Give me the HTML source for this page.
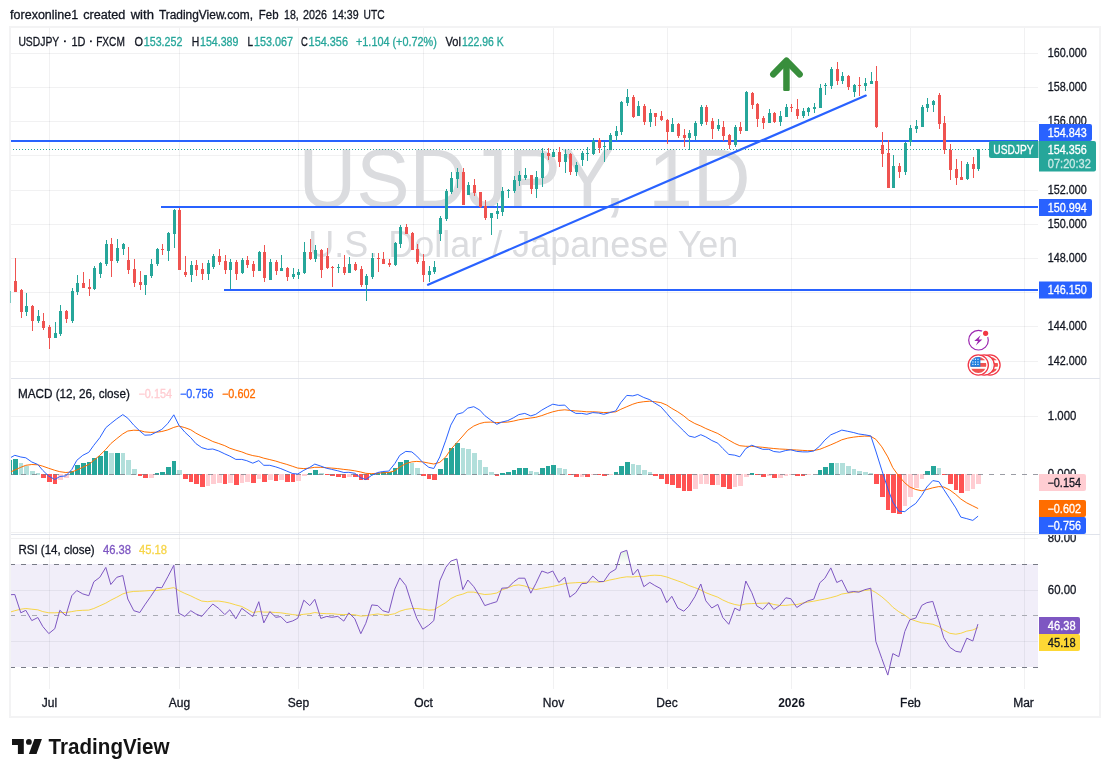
<!DOCTYPE html>
<html><head><meta charset="utf-8"><title>USDJPY chart</title>
<style>
html,body{margin:0;padding:0;background:#fff;}
body{width:1110px;height:777px;overflow:hidden;font-family:"Liberation Sans",sans-serif;}
svg{display:block;will-change:transform;}
text{font-family:"Liberation Sans",sans-serif;}
</style></head><body>
<svg width="1110" height="777" viewBox="0 0 1110 777">
<rect x="0" y="0" width="1110" height="777" fill="#ffffff"/>
<defs>
<clipPath id="plot"><rect x="11" y="28" width="1027" height="689"/></clipPath>
<clipPath id="rsiax"><rect x="1039" y="535" width="61" height="155"/></clipPath>
<clipPath id="cob"><rect x="11" y="535" width="1027" height="29.5"/></clipPath>
<clipPath id="cos"><rect x="11" y="667.5" width="1027" height="22"/></clipPath>
<linearGradient id="gob" gradientUnits="userSpaceOnUse" x1="0" y1="487" x2="0" y2="564.5"><stop offset="0" stop-color="#4caf50" stop-opacity="1"/><stop offset="1" stop-color="#4caf50" stop-opacity="0"/></linearGradient>
<linearGradient id="gos" gradientUnits="userSpaceOnUse" x1="0" y1="667.5" x2="0" y2="745"><stop offset="0" stop-color="#ff5252" stop-opacity="0"/><stop offset="1" stop-color="#ff5252" stop-opacity="1"/></linearGradient>
<clipPath id="main"><rect x="11" y="28" width="1027" height="350"/></clipPath>
</defs>

<text x="10.1" y="19.4" font-size="12" fill="#131722" stroke="#131722" stroke-width="0.3" textLength="68.1" lengthAdjust="spacingAndGlyphs">forexonline1</text>
<text x="83.2" y="19.4" font-size="12" fill="#131722" stroke="#131722" stroke-width="0.3" textLength="42.2" lengthAdjust="spacingAndGlyphs">created</text>
<text x="130.7" y="19.4" font-size="12" fill="#131722" stroke="#131722" stroke-width="0.3" textLength="23.2" lengthAdjust="spacingAndGlyphs">with</text>
<text x="158.9" y="19.4" font-size="12" fill="#131722" stroke="#131722" stroke-width="0.3" textLength="94.1" lengthAdjust="spacingAndGlyphs">TradingView.com,</text>
<text x="258.8" y="19.4" font-size="12" fill="#131722" stroke="#131722" stroke-width="0.3" textLength="19.7" lengthAdjust="spacingAndGlyphs">Feb</text>
<text x="284.1" y="19.4" font-size="12" fill="#131722" stroke="#131722" stroke-width="0.3" textLength="14.7" lengthAdjust="spacingAndGlyphs">18,</text>
<text x="303.1" y="19.4" font-size="12" fill="#131722" stroke="#131722" stroke-width="0.3" textLength="23.9" lengthAdjust="spacingAndGlyphs">2026</text>
<text x="332.1" y="19.4" font-size="12" fill="#131722" stroke="#131722" stroke-width="0.3" textLength="26.5" lengthAdjust="spacingAndGlyphs">14:39</text>
<text x="363.6" y="19.4" font-size="12" fill="#131722" stroke="#131722" stroke-width="0.3" textLength="21.0" lengthAdjust="spacingAndGlyphs">UTC</text>
<rect x="10" y="27" width="1090" height="690" fill="#fff" stroke="#f3f3f4" stroke-width="2"/>
<rect x="11" y="564" width="1027" height="103" fill="#f1eef9"/>
<g stroke="#2a2e39" stroke-opacity="0.065" stroke-width="1" shape-rendering="crispEdges">
<line x1="49.5" y1="28" x2="49.5" y2="689"/>
<line x1="179.5" y1="28" x2="179.5" y2="689"/>
<line x1="298.5" y1="28" x2="298.5" y2="689"/>
<line x1="423.5" y1="28" x2="423.5" y2="689"/>
<line x1="553.5" y1="28" x2="553.5" y2="689"/>
<line x1="667.5" y1="28" x2="667.5" y2="689"/>
<line x1="791.5" y1="28" x2="791.5" y2="689"/>
<line x1="910.5" y1="28" x2="910.5" y2="689"/>
<line x1="1024.5" y1="28" x2="1024.5" y2="689"/>
<line x1="11" y1="53.5" x2="1038" y2="53.5"/>
<line x1="11" y1="87.5" x2="1038" y2="87.5"/>
<line x1="11" y1="121.5" x2="1038" y2="121.5"/>
<line x1="11" y1="155.5" x2="1038" y2="155.5"/>
<line x1="11" y1="190.5" x2="1038" y2="190.5"/>
<line x1="11" y1="224.5" x2="1038" y2="224.5"/>
<line x1="11" y1="258.5" x2="1038" y2="258.5"/>
<line x1="11" y1="292.5" x2="1038" y2="292.5"/>
<line x1="11" y1="326.5" x2="1038" y2="326.5"/>
<line x1="11" y1="361.5" x2="1038" y2="361.5"/>
<line x1="11" y1="416.5" x2="1038" y2="416.5"/>
<line x1="11" y1="532.5" x2="1038" y2="532.5"/>
<line x1="11" y1="538.5" x2="1038" y2="538.5"/>
<line x1="11" y1="590.5" x2="1038" y2="590.5"/>
<line x1="11" y1="641.5" x2="1038" y2="641.5"/>
</g>
<g stroke="#e0e3eb" stroke-width="1" shape-rendering="crispEdges"><line x1="11" y1="378.5" x2="1100" y2="378.5"/><line x1="11" y1="534.5" x2="1100" y2="534.5"/></g>
<g fill="#dbdcdf" text-anchor="start">
<text x="298.5" y="0" font-size="80" transform="translate(0 206.8) scale(1 1.04)">USDJPY, 1D</text>
<text x="308.2" y="0" font-size="36" transform="translate(0 256.8) scale(1 1.04)">U.S. Dollar / Japanese Yen</text>
</g>
<g clip-path="url(#main)">
<g fill="#2962ff" shape-rendering="crispEdges">
<rect x="11" y="140" width="1027" height="2"/>
<rect x="161" y="206" width="877" height="2"/>
<rect x="224" y="289" width="814" height="2"/>
</g>
<line x1="428" y1="284.7" x2="865.8" y2="95.6" stroke="#2962ff" stroke-width="2.2" stroke-linecap="round"/>
<line x1="13" y1="149.5" x2="1038" y2="149.5" stroke="#26a69a" stroke-width="1" stroke-dasharray="1 2" shape-rendering="crispEdges"/>
<g shape-rendering="crispEdges">
<rect x="9" y="289" width="1" height="15" fill="#26a69a"/><rect x="8" y="291" width="3" height="12" fill="#26a69a"/>
<rect x="15" y="258" width="1" height="34" fill="#ef5350"/><rect x="14" y="281" width="3" height="11" fill="#ef5350"/>
<rect x="21" y="289" width="1" height="29" fill="#ef5350"/><rect x="20" y="290" width="3" height="22" fill="#ef5350"/>
<rect x="26" y="293" width="1" height="23" fill="#26a69a"/><rect x="25" y="306" width="3" height="6" fill="#26a69a"/>
<rect x="32" y="305" width="1" height="26" fill="#ef5350"/><rect x="31" y="306" width="3" height="15" fill="#ef5350"/>
<rect x="38" y="310" width="1" height="13" fill="#26a69a"/><rect x="37" y="316" width="3" height="5" fill="#26a69a"/>
<rect x="43" y="313" width="1" height="17" fill="#ef5350"/><rect x="42" y="321" width="3" height="7" fill="#ef5350"/>
<rect x="49" y="325" width="1" height="24" fill="#ef5350"/><rect x="48" y="327" width="3" height="11" fill="#ef5350"/>
<rect x="55" y="322" width="1" height="16" fill="#26a69a"/><rect x="54" y="333" width="3" height="5" fill="#26a69a"/>
<rect x="60" y="305" width="1" height="31" fill="#26a69a"/><rect x="59" y="311" width="3" height="23" fill="#26a69a"/>
<rect x="66" y="310" width="1" height="13" fill="#ef5350"/><rect x="65" y="311" width="3" height="8" fill="#ef5350"/>
<rect x="72" y="288" width="1" height="35" fill="#26a69a"/><rect x="71" y="291" width="3" height="30" fill="#26a69a"/>
<rect x="77" y="275" width="1" height="20" fill="#26a69a"/><rect x="76" y="283" width="3" height="9" fill="#26a69a"/>
<rect x="83" y="272" width="1" height="16" fill="#ef5350"/><rect x="82" y="283" width="3" height="5" fill="#ef5350"/>
<rect x="89" y="279" width="1" height="17" fill="#ef5350"/><rect x="88" y="287" width="3" height="2" fill="#ef5350"/>
<rect x="94" y="266" width="1" height="24" fill="#26a69a"/><rect x="93" y="268" width="3" height="21" fill="#26a69a"/>
<rect x="100" y="262" width="1" height="16" fill="#26a69a"/><rect x="99" y="263" width="3" height="11" fill="#26a69a"/>
<rect x="106" y="240" width="1" height="26" fill="#26a69a"/><rect x="105" y="244" width="3" height="20" fill="#26a69a"/>
<rect x="111" y="238" width="1" height="39" fill="#ef5350"/><rect x="110" y="244" width="3" height="17" fill="#ef5350"/>
<rect x="117" y="239" width="1" height="24" fill="#26a69a"/><rect x="116" y="248" width="3" height="13" fill="#26a69a"/>
<rect x="123" y="243" width="1" height="12" fill="#26a69a"/><rect x="122" y="244" width="3" height="5" fill="#26a69a"/>
<rect x="128" y="247" width="1" height="27" fill="#ef5350"/><rect x="127" y="260" width="3" height="10" fill="#ef5350"/>
<rect x="134" y="259" width="1" height="28" fill="#ef5350"/><rect x="133" y="269" width="3" height="14" fill="#ef5350"/>
<rect x="140" y="271" width="1" height="19" fill="#ef5350"/><rect x="139" y="282" width="3" height="3" fill="#ef5350"/>
<rect x="145" y="275" width="1" height="20" fill="#26a69a"/><rect x="144" y="275" width="3" height="10" fill="#26a69a"/>
<rect x="151" y="259" width="1" height="19" fill="#26a69a"/><rect x="150" y="264" width="3" height="12" fill="#26a69a"/>
<rect x="157" y="248" width="1" height="18" fill="#26a69a"/><rect x="156" y="249" width="3" height="15" fill="#26a69a"/>
<rect x="162" y="244" width="1" height="11" fill="#ef5350"/><rect x="161" y="249" width="3" height="1" fill="#ef5350"/>
<rect x="168" y="232" width="1" height="29" fill="#26a69a"/><rect x="167" y="233" width="3" height="18" fill="#26a69a"/>
<rect x="174" y="209" width="1" height="39" fill="#26a69a"/><rect x="173" y="210" width="3" height="24" fill="#26a69a"/>
<rect x="179" y="208" width="1" height="62" fill="#ef5350"/><rect x="178" y="210" width="3" height="60" fill="#ef5350"/>
<rect x="185" y="256" width="1" height="21" fill="#ef5350"/><rect x="184" y="272" width="3" height="3" fill="#ef5350"/>
<rect x="191" y="261" width="1" height="21" fill="#26a69a"/><rect x="190" y="265" width="3" height="10" fill="#26a69a"/>
<rect x="196" y="260" width="1" height="16" fill="#ef5350"/><rect x="195" y="265" width="3" height="5" fill="#ef5350"/>
<rect x="202" y="263" width="1" height="17" fill="#ef5350"/><rect x="201" y="269" width="3" height="5" fill="#ef5350"/>
<rect x="208" y="260" width="1" height="20" fill="#26a69a"/><rect x="207" y="263" width="3" height="11" fill="#26a69a"/>
<rect x="213" y="254" width="1" height="15" fill="#26a69a"/><rect x="212" y="256" width="3" height="11" fill="#26a69a"/>
<rect x="219" y="249" width="1" height="16" fill="#ef5350"/><rect x="218" y="256" width="3" height="6" fill="#ef5350"/>
<rect x="225" y="255" width="1" height="19" fill="#ef5350"/><rect x="224" y="261" width="3" height="9" fill="#ef5350"/>
<rect x="230" y="259" width="1" height="30" fill="#26a69a"/><rect x="229" y="262" width="3" height="8" fill="#26a69a"/>
<rect x="236" y="260" width="1" height="20" fill="#ef5350"/><rect x="235" y="262" width="3" height="12" fill="#ef5350"/>
<rect x="242" y="258" width="1" height="16" fill="#26a69a"/><rect x="241" y="260" width="3" height="13" fill="#26a69a"/>
<rect x="247" y="256" width="1" height="12" fill="#ef5350"/><rect x="246" y="260" width="3" height="5" fill="#ef5350"/>
<rect x="253" y="261" width="1" height="16" fill="#ef5350"/><rect x="252" y="264" width="3" height="7" fill="#ef5350"/>
<rect x="259" y="251" width="1" height="20" fill="#26a69a"/><rect x="258" y="252" width="3" height="19" fill="#26a69a"/>
<rect x="264" y="245" width="1" height="37" fill="#ef5350"/><rect x="263" y="252" width="3" height="26" fill="#ef5350"/>
<rect x="270" y="259" width="1" height="21" fill="#26a69a"/><rect x="269" y="262" width="3" height="18" fill="#26a69a"/>
<rect x="276" y="260" width="1" height="15" fill="#ef5350"/><rect x="275" y="262" width="3" height="9" fill="#ef5350"/>
<rect x="281" y="255" width="1" height="16" fill="#26a69a"/><rect x="280" y="268" width="3" height="3" fill="#26a69a"/>
<rect x="287" y="267" width="1" height="14" fill="#ef5350"/><rect x="286" y="268" width="3" height="9" fill="#ef5350"/>
<rect x="293" y="268" width="1" height="11" fill="#26a69a"/><rect x="292" y="274" width="3" height="3" fill="#26a69a"/>
<rect x="298" y="269" width="1" height="10" fill="#26a69a"/><rect x="297" y="272" width="3" height="3" fill="#26a69a"/>
<rect x="304" y="242" width="1" height="32" fill="#26a69a"/><rect x="303" y="252" width="3" height="21" fill="#26a69a"/>
<rect x="310" y="239" width="1" height="21" fill="#ef5350"/><rect x="309" y="252" width="3" height="7" fill="#ef5350"/>
<rect x="315" y="245" width="1" height="17" fill="#26a69a"/><rect x="314" y="250" width="3" height="9" fill="#26a69a"/>
<rect x="321" y="249" width="1" height="29" fill="#ef5350"/><rect x="320" y="250" width="3" height="20" fill="#ef5350"/>
<rect x="327" y="248" width="1" height="21" fill="#ef5350"/><rect x="326" y="256" width="3" height="12" fill="#ef5350"/>
<rect x="332" y="266" width="1" height="21" fill="#ef5350"/><rect x="331" y="267" width="3" height="1" fill="#ef5350"/>
<rect x="338" y="264" width="1" height="9" fill="#26a69a"/><rect x="337" y="267" width="3" height="1" fill="#26a69a"/>
<rect x="344" y="255" width="1" height="20" fill="#ef5350"/><rect x="343" y="267" width="3" height="6" fill="#ef5350"/>
<rect x="349" y="257" width="1" height="16" fill="#26a69a"/><rect x="348" y="264" width="3" height="9" fill="#26a69a"/>
<rect x="355" y="262" width="1" height="9" fill="#ef5350"/><rect x="354" y="264" width="3" height="6" fill="#ef5350"/>
<rect x="361" y="266" width="1" height="21" fill="#ef5350"/><rect x="360" y="269" width="3" height="16" fill="#ef5350"/>
<rect x="366" y="274" width="1" height="27" fill="#26a69a"/><rect x="365" y="276" width="3" height="9" fill="#26a69a"/>
<rect x="372" y="253" width="1" height="26" fill="#26a69a"/><rect x="371" y="258" width="3" height="19" fill="#26a69a"/>
<rect x="378" y="253" width="1" height="19" fill="#ef5350"/><rect x="377" y="258" width="3" height="1" fill="#ef5350"/>
<rect x="383" y="252" width="1" height="12" fill="#ef5350"/><rect x="382" y="259" width="3" height="5" fill="#ef5350"/>
<rect x="389" y="259" width="1" height="8" fill="#ef5350"/><rect x="388" y="263" width="3" height="2" fill="#ef5350"/>
<rect x="395" y="242" width="1" height="24" fill="#26a69a"/><rect x="394" y="243" width="3" height="22" fill="#26a69a"/>
<rect x="400" y="225" width="1" height="23" fill="#26a69a"/><rect x="399" y="227" width="3" height="17" fill="#26a69a"/>
<rect x="406" y="224" width="1" height="10" fill="#ef5350"/><rect x="405" y="227" width="3" height="7" fill="#ef5350"/>
<rect x="412" y="232" width="1" height="18" fill="#ef5350"/><rect x="411" y="233" width="3" height="17" fill="#ef5350"/>
<rect x="417" y="244" width="1" height="20" fill="#ef5350"/><rect x="416" y="249" width="3" height="13" fill="#ef5350"/>
<rect x="423" y="254" width="1" height="28" fill="#ef5350"/><rect x="422" y="261" width="3" height="14" fill="#ef5350"/>
<rect x="429" y="266" width="1" height="16" fill="#26a69a"/><rect x="428" y="271" width="3" height="4" fill="#26a69a"/>
<rect x="434" y="261" width="1" height="13" fill="#26a69a"/><rect x="433" y="267" width="3" height="5" fill="#26a69a"/>
<rect x="440" y="216" width="1" height="25" fill="#26a69a"/><rect x="439" y="218" width="3" height="16" fill="#26a69a"/>
<rect x="446" y="189" width="1" height="32" fill="#26a69a"/><rect x="445" y="191" width="3" height="28" fill="#26a69a"/>
<rect x="451" y="172" width="1" height="22" fill="#26a69a"/><rect x="450" y="178" width="3" height="14" fill="#26a69a"/>
<rect x="457" y="168" width="1" height="20" fill="#26a69a"/><rect x="456" y="172" width="3" height="7" fill="#26a69a"/>
<rect x="463" y="168" width="1" height="37" fill="#ef5350"/><rect x="462" y="172" width="3" height="33" fill="#ef5350"/>
<rect x="468" y="182" width="1" height="13" fill="#26a69a"/><rect x="467" y="185" width="3" height="10" fill="#26a69a"/>
<rect x="474" y="179" width="1" height="17" fill="#ef5350"/><rect x="473" y="185" width="3" height="8" fill="#ef5350"/>
<rect x="480" y="192" width="1" height="16" fill="#ef5350"/><rect x="479" y="192" width="3" height="15" fill="#ef5350"/>
<rect x="485" y="200" width="1" height="20" fill="#ef5350"/><rect x="484" y="206" width="3" height="12" fill="#ef5350"/>
<rect x="491" y="213" width="1" height="22" fill="#26a69a"/><rect x="490" y="213" width="3" height="5" fill="#26a69a"/>
<rect x="497" y="203" width="1" height="16" fill="#26a69a"/><rect x="496" y="211" width="3" height="3" fill="#26a69a"/>
<rect x="502" y="187" width="1" height="29" fill="#26a69a"/><rect x="501" y="191" width="3" height="21" fill="#26a69a"/>
<rect x="508" y="189" width="1" height="9" fill="#26a69a"/><rect x="507" y="190" width="3" height="1" fill="#26a69a"/>
<rect x="514" y="176" width="1" height="17" fill="#26a69a"/><rect x="513" y="180" width="3" height="11" fill="#26a69a"/>
<rect x="519" y="171" width="1" height="15" fill="#26a69a"/><rect x="518" y="175" width="3" height="6" fill="#26a69a"/>
<rect x="525" y="168" width="1" height="12" fill="#26a69a"/><rect x="524" y="175" width="3" height="3" fill="#26a69a"/>
<rect x="531" y="175" width="1" height="19" fill="#ef5350"/><rect x="530" y="175" width="3" height="14" fill="#ef5350"/>
<rect x="536" y="171" width="1" height="27" fill="#26a69a"/><rect x="535" y="177" width="3" height="12" fill="#26a69a"/>
<rect x="542" y="148" width="1" height="39" fill="#26a69a"/><rect x="541" y="153" width="3" height="25" fill="#26a69a"/>
<rect x="548" y="148" width="1" height="12" fill="#ef5350"/><rect x="547" y="153" width="3" height="3" fill="#ef5350"/>
<rect x="553" y="149" width="1" height="8" fill="#26a69a"/><rect x="552" y="152" width="3" height="5" fill="#26a69a"/>
<rect x="559" y="147" width="1" height="20" fill="#ef5350"/><rect x="558" y="152" width="3" height="10" fill="#ef5350"/>
<rect x="565" y="149" width="1" height="24" fill="#26a69a"/><rect x="564" y="154" width="3" height="8" fill="#26a69a"/>
<rect x="570" y="153" width="1" height="22" fill="#ef5350"/><rect x="569" y="154" width="3" height="18" fill="#ef5350"/>
<rect x="576" y="162" width="1" height="14" fill="#26a69a"/><rect x="575" y="165" width="3" height="7" fill="#26a69a"/>
<rect x="582" y="151" width="1" height="15" fill="#26a69a"/><rect x="581" y="153" width="3" height="7" fill="#26a69a"/>
<rect x="587" y="147" width="1" height="14" fill="#26a69a"/><rect x="586" y="153" width="3" height="1" fill="#26a69a"/>
<rect x="593" y="138" width="1" height="17" fill="#26a69a"/><rect x="592" y="141" width="3" height="13" fill="#26a69a"/>
<rect x="599" y="138" width="1" height="15" fill="#ef5350"/><rect x="598" y="140" width="3" height="8" fill="#ef5350"/>
<rect x="604" y="142" width="1" height="20" fill="#26a69a"/><rect x="603" y="146" width="3" height="1" fill="#26a69a"/>
<rect x="610" y="133" width="1" height="17" fill="#26a69a"/><rect x="609" y="135" width="3" height="15" fill="#26a69a"/>
<rect x="616" y="126" width="1" height="15" fill="#26a69a"/><rect x="615" y="131" width="3" height="5" fill="#26a69a"/>
<rect x="621" y="101" width="1" height="34" fill="#26a69a"/><rect x="620" y="102" width="3" height="30" fill="#26a69a"/>
<rect x="627" y="89" width="1" height="17" fill="#26a69a"/><rect x="626" y="97" width="3" height="6" fill="#26a69a"/>
<rect x="633" y="95" width="1" height="23" fill="#ef5350"/><rect x="632" y="97" width="3" height="20" fill="#ef5350"/>
<rect x="638" y="101" width="1" height="15" fill="#26a69a"/><rect x="637" y="106" width="3" height="10" fill="#26a69a"/>
<rect x="644" y="104" width="1" height="21" fill="#ef5350"/><rect x="643" y="106" width="3" height="16" fill="#ef5350"/>
<rect x="650" y="109" width="1" height="18" fill="#26a69a"/><rect x="649" y="113" width="3" height="9" fill="#26a69a"/>
<rect x="655" y="113" width="1" height="13" fill="#ef5350"/><rect x="654" y="113" width="3" height="4" fill="#ef5350"/>
<rect x="661" y="111" width="1" height="10" fill="#ef5350"/><rect x="660" y="116" width="3" height="4" fill="#ef5350"/>
<rect x="667" y="119" width="1" height="25" fill="#ef5350"/><rect x="666" y="120" width="3" height="12" fill="#ef5350"/>
<rect x="672" y="118" width="1" height="14" fill="#26a69a"/><rect x="671" y="124" width="3" height="8" fill="#26a69a"/>
<rect x="678" y="123" width="1" height="15" fill="#ef5350"/><rect x="677" y="124" width="3" height="12" fill="#ef5350"/>
<rect x="684" y="129" width="1" height="18" fill="#ef5350"/><rect x="683" y="135" width="3" height="3" fill="#ef5350"/>
<rect x="689" y="130" width="1" height="20" fill="#26a69a"/><rect x="688" y="133" width="3" height="5" fill="#26a69a"/>
<rect x="695" y="121" width="1" height="19" fill="#26a69a"/><rect x="694" y="123" width="3" height="13" fill="#26a69a"/>
<rect x="701" y="105" width="1" height="21" fill="#26a69a"/><rect x="700" y="107" width="3" height="17" fill="#26a69a"/>
<rect x="706" y="105" width="1" height="20" fill="#ef5350"/><rect x="705" y="107" width="3" height="15" fill="#ef5350"/>
<rect x="712" y="118" width="1" height="21" fill="#ef5350"/><rect x="711" y="121" width="3" height="8" fill="#ef5350"/>
<rect x="718" y="119" width="1" height="12" fill="#26a69a"/><rect x="717" y="125" width="3" height="4" fill="#26a69a"/>
<rect x="723" y="121" width="1" height="20" fill="#ef5350"/><rect x="722" y="127" width="3" height="9" fill="#ef5350"/>
<rect x="729" y="134" width="1" height="15" fill="#ef5350"/><rect x="728" y="135" width="3" height="10" fill="#ef5350"/>
<rect x="735" y="125" width="1" height="22" fill="#26a69a"/><rect x="734" y="127" width="3" height="18" fill="#26a69a"/>
<rect x="740" y="122" width="1" height="12" fill="#ef5350"/><rect x="739" y="127" width="3" height="4" fill="#ef5350"/>
<rect x="746" y="91" width="1" height="40" fill="#26a69a"/><rect x="745" y="92" width="3" height="39" fill="#26a69a"/>
<rect x="752" y="92" width="1" height="17" fill="#ef5350"/><rect x="751" y="93" width="3" height="12" fill="#ef5350"/>
<rect x="757" y="103" width="1" height="24" fill="#ef5350"/><rect x="756" y="104" width="3" height="15" fill="#ef5350"/>
<rect x="763" y="116" width="1" height="13" fill="#ef5350"/><rect x="762" y="118" width="3" height="5" fill="#ef5350"/>
<rect x="769" y="109" width="1" height="14" fill="#26a69a"/><rect x="768" y="113" width="3" height="10" fill="#26a69a"/>
<rect x="774" y="112" width="1" height="11" fill="#ef5350"/><rect x="773" y="113" width="3" height="9" fill="#ef5350"/>
<rect x="780" y="111" width="1" height="15" fill="#26a69a"/><rect x="779" y="116" width="3" height="6" fill="#26a69a"/>
<rect x="786" y="104" width="1" height="13" fill="#26a69a"/><rect x="785" y="107" width="3" height="10" fill="#26a69a"/>
<rect x="791" y="104" width="1" height="8" fill="#ef5350"/><rect x="790" y="107" width="3" height="1" fill="#ef5350"/>
<rect x="797" y="99" width="1" height="20" fill="#ef5350"/><rect x="796" y="109" width="3" height="7" fill="#ef5350"/>
<rect x="803" y="108" width="1" height="10" fill="#26a69a"/><rect x="802" y="111" width="3" height="5" fill="#26a69a"/>
<rect x="808" y="107" width="1" height="9" fill="#26a69a"/><rect x="807" y="108" width="3" height="4" fill="#26a69a"/>
<rect x="814" y="103" width="1" height="10" fill="#26a69a"/><rect x="813" y="107" width="3" height="2" fill="#26a69a"/>
<rect x="820" y="84" width="1" height="24" fill="#26a69a"/><rect x="819" y="88" width="3" height="20" fill="#26a69a"/>
<rect x="825" y="83" width="1" height="12" fill="#26a69a"/><rect x="824" y="85" width="3" height="1" fill="#26a69a"/>
<rect x="831" y="67" width="1" height="22" fill="#26a69a"/><rect x="830" y="69" width="3" height="17" fill="#26a69a"/>
<rect x="837" y="62" width="1" height="23" fill="#ef5350"/><rect x="836" y="69" width="3" height="12" fill="#ef5350"/>
<rect x="842" y="72" width="1" height="12" fill="#26a69a"/><rect x="841" y="76" width="3" height="5" fill="#26a69a"/>
<rect x="848" y="75" width="1" height="15" fill="#ef5350"/><rect x="847" y="76" width="3" height="11" fill="#ef5350"/>
<rect x="854" y="84" width="1" height="13" fill="#26a69a"/><rect x="853" y="85" width="3" height="7" fill="#26a69a"/>
<rect x="859" y="77" width="1" height="19" fill="#ef5350"/><rect x="858" y="85" width="3" height="1" fill="#ef5350"/>
<rect x="865" y="78" width="1" height="13" fill="#26a69a"/><rect x="864" y="83" width="3" height="3" fill="#26a69a"/>
<rect x="871" y="72" width="1" height="12" fill="#26a69a"/><rect x="870" y="81" width="3" height="3" fill="#26a69a"/>
<rect x="876" y="66" width="1" height="62" fill="#ef5350"/><rect x="875" y="81" width="3" height="46" fill="#ef5350"/>
<rect x="882" y="132" width="1" height="35" fill="#ef5350"/><rect x="881" y="145" width="3" height="9" fill="#ef5350"/>
<rect x="888" y="140" width="1" height="48" fill="#ef5350"/><rect x="887" y="153" width="3" height="35" fill="#ef5350"/>
<rect x="893" y="155" width="1" height="33" fill="#26a69a"/><rect x="892" y="166" width="3" height="22" fill="#26a69a"/>
<rect x="899" y="163" width="1" height="15" fill="#ef5350"/><rect x="898" y="166" width="3" height="6" fill="#ef5350"/>
<rect x="905" y="142" width="1" height="33" fill="#26a69a"/><rect x="904" y="143" width="3" height="29" fill="#26a69a"/>
<rect x="910" y="125" width="1" height="21" fill="#26a69a"/><rect x="909" y="128" width="3" height="14" fill="#26a69a"/>
<rect x="916" y="120" width="1" height="13" fill="#26a69a"/><rect x="915" y="126" width="3" height="3" fill="#26a69a"/>
<rect x="922" y="105" width="1" height="22" fill="#26a69a"/><rect x="921" y="107" width="3" height="20" fill="#26a69a"/>
<rect x="927" y="98" width="1" height="14" fill="#26a69a"/><rect x="926" y="104" width="3" height="4" fill="#26a69a"/>
<rect x="933" y="100" width="1" height="12" fill="#26a69a"/><rect x="932" y="101" width="3" height="4" fill="#26a69a"/>
<rect x="939" y="93" width="1" height="36" fill="#ef5350"/><rect x="938" y="95" width="3" height="29" fill="#ef5350"/>
<rect x="944" y="116" width="1" height="38" fill="#ef5350"/><rect x="943" y="123" width="3" height="27" fill="#ef5350"/>
<rect x="950" y="144" width="1" height="36" fill="#ef5350"/><rect x="949" y="150" width="3" height="20" fill="#ef5350"/>
<rect x="956" y="159" width="1" height="26" fill="#ef5350"/><rect x="955" y="169" width="3" height="9" fill="#ef5350"/>
<rect x="961" y="161" width="1" height="19" fill="#ef5350"/><rect x="960" y="177" width="3" height="3" fill="#ef5350"/>
<rect x="967" y="162" width="1" height="18" fill="#26a69a"/><rect x="966" y="164" width="3" height="15" fill="#26a69a"/>
<rect x="973" y="157" width="1" height="21" fill="#ef5350"/><rect x="972" y="164" width="3" height="5" fill="#ef5350"/>
<rect x="978" y="149" width="1" height="22" fill="#26a69a"/><rect x="977" y="149" width="3" height="20" fill="#26a69a"/>
</g>
<g fill="none" stroke="#388e3c" stroke-width="6.5" stroke-linecap="round" stroke-linejoin="round"><path d="M773.3 74.3 L786.45 60.7 L799.6 74.3"/></g><rect x="783.2" y="62" width="6.5" height="29.1" rx="1.3" fill="#388e3c"/>
</g>
<rect x="10" y="291" width="1" height="12" fill="#7cc9c1" shape-rendering="crispEdges"/>
<g>
<circle cx="978.5" cy="340.2" r="9.8" fill="none" stroke="#9c27b0" stroke-width="1.2"/>
<circle cx="985.6" cy="333.3" r="4.2" fill="#fff"/>
<circle cx="985.6" cy="333.3" r="2.6" fill="#f23645"/>
<path d="M980.6 335.2 L974.3 341 L978 341 L975.8 345.6 L982.3 339.4 L978.6 339.4 Z" fill="#9c27b0"/>
</g>
<g><circle cx="990.0" cy="365.0" r="10.1" fill="#fff" stroke="#f23645" stroke-width="1.3"/><clipPath id="fc9900"><circle cx="990.0" cy="365.0" r="8"/></clipPath><g clip-path="url(#fc9900)"><rect x="981.0" y="356.9" width="18" height="3.4" fill="#ef5350"/><rect x="981.0" y="363.0" width="18" height="3.8" fill="#ef5350"/><rect x="981.0" y="368.8" width="18" height="4.5" fill="#ef5350"/></g><circle cx="984.2" cy="365.0" r="10.1" fill="#fff" stroke="#f23645" stroke-width="1.3"/><circle cx="984.2" cy="365.0" r="8" fill="none" stroke="#e6f0fb" stroke-width="1"/><circle cx="978.3" cy="365.0" r="10.1" fill="#fff" stroke="#f23645" stroke-width="1.3"/><clipPath id="fc9783"><circle cx="978.3" cy="365.0" r="8"/></clipPath><g clip-path="url(#fc9783)"><rect x="969.3" y="356.9" width="18" height="3.4" fill="#ef5350"/><rect x="969.3" y="363.0" width="18" height="3.8" fill="#ef5350"/><rect x="969.3" y="368.8" width="18" height="4.5" fill="#ef5350"/><rect x="969.3" y="356.9" width="11.1" height="9.9" fill="#1e7fe0"/><rect x="972.3" y="358.7" width="1.2" height="1.2" fill="#fff" fill-opacity="0.9"/><rect x="972.3" y="361.4" width="1.2" height="1.2" fill="#fff" fill-opacity="0.9"/><rect x="972.3" y="363.8" width="1.2" height="1.2" fill="#fff" fill-opacity="0.9"/><rect x="974.8" y="358.7" width="1.2" height="1.2" fill="#fff" fill-opacity="0.9"/><rect x="974.8" y="361.4" width="1.2" height="1.2" fill="#fff" fill-opacity="0.9"/><rect x="974.8" y="363.8" width="1.2" height="1.2" fill="#fff" fill-opacity="0.9"/><rect x="977.4" y="358.7" width="1.2" height="1.2" fill="#fff" fill-opacity="0.9"/><rect x="977.4" y="361.4" width="1.2" height="1.2" fill="#fff" fill-opacity="0.9"/><rect x="977.4" y="363.8" width="1.2" height="1.2" fill="#fff" fill-opacity="0.9"/></g></g>
<g clip-path="url(#plot)">
<g shape-rendering="crispEdges">
<rect x="7" y="460" width="5" height="15" fill="#26a69a"/>
<rect x="13" y="459" width="5" height="16" fill="#26a69a"/>
<rect x="19" y="463" width="4" height="12" fill="#b2dfdb"/>
<rect x="24" y="466" width="5" height="9" fill="#b2dfdb"/>
<rect x="30" y="471" width="5" height="4" fill="#b2dfdb"/>
<rect x="36" y="473" width="4" height="2" fill="#b2dfdb"/>
<rect x="41" y="474" width="5" height="4" fill="#ff5252"/>
<rect x="47" y="474" width="5" height="8" fill="#ff5252"/>
<rect x="53" y="474" width="4" height="10" fill="#ff5252"/>
<rect x="58" y="474" width="5" height="6" fill="#ffcdd2"/>
<rect x="64" y="474" width="5" height="4" fill="#ffcdd2"/>
<rect x="70" y="471" width="4" height="4" fill="#26a69a"/>
<rect x="75" y="465" width="5" height="10" fill="#26a69a"/>
<rect x="81" y="463" width="5" height="12" fill="#26a69a"/>
<rect x="87" y="462" width="4" height="13" fill="#26a69a"/>
<rect x="92" y="458" width="5" height="17" fill="#26a69a"/>
<rect x="98" y="456" width="5" height="19" fill="#26a69a"/>
<rect x="104" y="451" width="4" height="24" fill="#26a69a"/>
<rect x="109" y="453" width="5" height="22" fill="#b2dfdb"/>
<rect x="115" y="453" width="5" height="22" fill="#26a69a"/>
<rect x="121" y="453" width="4" height="22" fill="#b2dfdb"/>
<rect x="126" y="460" width="5" height="15" fill="#b2dfdb"/>
<rect x="132" y="469" width="5" height="6" fill="#b2dfdb"/>
<rect x="138" y="474" width="4" height="2" fill="#ff5252"/>
<rect x="143" y="474" width="5" height="4" fill="#ff5252"/>
<rect x="149" y="474" width="5" height="4" fill="#ffcdd2"/>
<rect x="155" y="473" width="4" height="2" fill="#26a69a"/>
<rect x="160" y="472" width="5" height="3" fill="#26a69a"/>
<rect x="166" y="467" width="5" height="8" fill="#26a69a"/>
<rect x="172" y="461" width="4" height="14" fill="#26a69a"/>
<rect x="177" y="470" width="5" height="5" fill="#b2dfdb"/>
<rect x="183" y="474" width="5" height="5" fill="#ff5252"/>
<rect x="189" y="474" width="4" height="8" fill="#ff5252"/>
<rect x="194" y="474" width="5" height="10" fill="#ff5252"/>
<rect x="200" y="474" width="5" height="13" fill="#ff5252"/>
<rect x="206" y="474" width="4" height="12" fill="#ffcdd2"/>
<rect x="211" y="474" width="5" height="10" fill="#ffcdd2"/>
<rect x="217" y="474" width="5" height="9" fill="#ffcdd2"/>
<rect x="223" y="474" width="4" height="10" fill="#ff5252"/>
<rect x="228" y="474" width="5" height="9" fill="#ffcdd2"/>
<rect x="234" y="474" width="5" height="11" fill="#ff5252"/>
<rect x="240" y="474" width="4" height="9" fill="#ffcdd2"/>
<rect x="245" y="474" width="5" height="8" fill="#ffcdd2"/>
<rect x="251" y="474" width="5" height="9" fill="#ff5252"/>
<rect x="257" y="474" width="4" height="5" fill="#ffcdd2"/>
<rect x="262" y="474" width="5" height="8" fill="#ff5252"/>
<rect x="268" y="474" width="5" height="6" fill="#ffcdd2"/>
<rect x="274" y="474" width="4" height="7" fill="#ff5252"/>
<rect x="279" y="474" width="5" height="6" fill="#ffcdd2"/>
<rect x="285" y="474" width="5" height="8" fill="#ff5252"/>
<rect x="291" y="474" width="4" height="8" fill="#ff5252"/>
<rect x="296" y="474" width="5" height="7" fill="#ffcdd2"/>
<rect x="302" y="474" width="5" height="2" fill="#ffcdd2"/>
<rect x="308" y="473" width="4" height="2" fill="#26a69a"/>
<rect x="313" y="470" width="5" height="5" fill="#26a69a"/>
<rect x="319" y="473" width="5" height="2" fill="#b2dfdb"/>
<rect x="325" y="474" width="4" height="1" fill="#ff5252"/>
<rect x="330" y="474" width="5" height="2" fill="#ff5252"/>
<rect x="336" y="474" width="5" height="3" fill="#ff5252"/>
<rect x="342" y="474" width="4" height="4" fill="#ff5252"/>
<rect x="347" y="474" width="5" height="3" fill="#ffcdd2"/>
<rect x="353" y="474" width="5" height="3" fill="#ff5252"/>
<rect x="359" y="474" width="4" height="6" fill="#ff5252"/>
<rect x="364" y="474" width="5" height="6" fill="#ff5252"/>
<rect x="370" y="474" width="5" height="1" fill="#26a69a"/>
<rect x="376" y="473" width="4" height="2" fill="#26a69a"/>
<rect x="381" y="472" width="5" height="3" fill="#26a69a"/>
<rect x="387" y="472" width="5" height="3" fill="#26a69a"/>
<rect x="393" y="468" width="4" height="7" fill="#26a69a"/>
<rect x="398" y="462" width="5" height="13" fill="#26a69a"/>
<rect x="404" y="460" width="5" height="15" fill="#26a69a"/>
<rect x="410" y="463" width="4" height="12" fill="#b2dfdb"/>
<rect x="415" y="468" width="5" height="7" fill="#b2dfdb"/>
<rect x="421" y="474" width="5" height="2" fill="#ff5252"/>
<rect x="427" y="474" width="4" height="5" fill="#ff5252"/>
<rect x="432" y="474" width="5" height="6" fill="#ff5252"/>
<rect x="438" y="469" width="5" height="6" fill="#26a69a"/>
<rect x="444" y="458" width="4" height="17" fill="#26a69a"/>
<rect x="449" y="448" width="5" height="27" fill="#26a69a"/>
<rect x="455" y="443" width="5" height="32" fill="#26a69a"/>
<rect x="461" y="448" width="4" height="27" fill="#b2dfdb"/>
<rect x="466" y="449" width="5" height="26" fill="#b2dfdb"/>
<rect x="472" y="453" width="5" height="22" fill="#b2dfdb"/>
<rect x="478" y="460" width="4" height="15" fill="#b2dfdb"/>
<rect x="483" y="467" width="5" height="8" fill="#b2dfdb"/>
<rect x="489" y="472" width="5" height="3" fill="#b2dfdb"/>
<rect x="495" y="474" width="4" height="2" fill="#ff5252"/>
<rect x="500" y="473" width="5" height="2" fill="#26a69a"/>
<rect x="506" y="472" width="5" height="3" fill="#26a69a"/>
<rect x="512" y="470" width="4" height="5" fill="#26a69a"/>
<rect x="517" y="468" width="5" height="7" fill="#26a69a"/>
<rect x="523" y="468" width="5" height="7" fill="#26a69a"/>
<rect x="529" y="471" width="4" height="4" fill="#b2dfdb"/>
<rect x="534" y="472" width="5" height="3" fill="#b2dfdb"/>
<rect x="540" y="468" width="5" height="7" fill="#26a69a"/>
<rect x="546" y="466" width="4" height="9" fill="#26a69a"/>
<rect x="551" y="465" width="5" height="10" fill="#26a69a"/>
<rect x="557" y="468" width="5" height="7" fill="#b2dfdb"/>
<rect x="563" y="469" width="4" height="6" fill="#b2dfdb"/>
<rect x="568" y="474" width="5" height="1" fill="#ff5252"/>
<rect x="574" y="474" width="5" height="3" fill="#ff5252"/>
<rect x="580" y="474" width="4" height="3" fill="#ffcdd2"/>
<rect x="585" y="474" width="5" height="3" fill="#ff5252"/>
<rect x="591" y="474" width="5" height="1" fill="#ffcdd2"/>
<rect x="597" y="474" width="4" height="1" fill="#ff5252"/>
<rect x="602" y="474" width="5" height="2" fill="#ff5252"/>
<rect x="608" y="474" width="5" height="1" fill="#ffcdd2"/>
<rect x="614" y="472" width="4" height="3" fill="#26a69a"/>
<rect x="619" y="466" width="5" height="9" fill="#26a69a"/>
<rect x="625" y="462" width="5" height="13" fill="#26a69a"/>
<rect x="631" y="464" width="4" height="11" fill="#b2dfdb"/>
<rect x="636" y="465" width="5" height="10" fill="#b2dfdb"/>
<rect x="642" y="470" width="5" height="5" fill="#b2dfdb"/>
<rect x="648" y="472" width="4" height="3" fill="#b2dfdb"/>
<rect x="653" y="474" width="5" height="2" fill="#ff5252"/>
<rect x="659" y="474" width="5" height="5" fill="#ff5252"/>
<rect x="665" y="474" width="4" height="10" fill="#ff5252"/>
<rect x="670" y="474" width="5" height="11" fill="#ff5252"/>
<rect x="676" y="474" width="5" height="14" fill="#ff5252"/>
<rect x="682" y="474" width="4" height="17" fill="#ff5252"/>
<rect x="687" y="474" width="5" height="17" fill="#ff5252"/>
<rect x="693" y="474" width="5" height="15" fill="#ffcdd2"/>
<rect x="699" y="474" width="4" height="10" fill="#ffcdd2"/>
<rect x="704" y="474" width="5" height="10" fill="#ffcdd2"/>
<rect x="710" y="474" width="5" height="11" fill="#ff5252"/>
<rect x="716" y="474" width="4" height="11" fill="#ffcdd2"/>
<rect x="721" y="474" width="5" height="13" fill="#ff5252"/>
<rect x="727" y="474" width="5" height="15" fill="#ff5252"/>
<rect x="733" y="474" width="4" height="13" fill="#ffcdd2"/>
<rect x="738" y="474" width="5" height="12" fill="#ffcdd2"/>
<rect x="744" y="474" width="5" height="3" fill="#ffcdd2"/>
<rect x="750" y="473" width="4" height="2" fill="#26a69a"/>
<rect x="755" y="474" width="5" height="1" fill="#ff5252"/>
<rect x="761" y="474" width="5" height="3" fill="#ff5252"/>
<rect x="767" y="474" width="4" height="2" fill="#ffcdd2"/>
<rect x="772" y="474" width="5" height="4" fill="#ff5252"/>
<rect x="778" y="474" width="5" height="4" fill="#ffcdd2"/>
<rect x="784" y="474" width="4" height="2" fill="#ffcdd2"/>
<rect x="789" y="474" width="5" height="1" fill="#ffcdd2"/>
<rect x="795" y="474" width="5" height="2" fill="#ff5252"/>
<rect x="801" y="474" width="4" height="2" fill="#ff5252"/>
<rect x="806" y="474" width="5" height="1" fill="#ffcdd2"/>
<rect x="818" y="470" width="4" height="5" fill="#26a69a"/>
<rect x="823" y="467" width="5" height="8" fill="#26a69a"/>
<rect x="829" y="463" width="5" height="12" fill="#26a69a"/>
<rect x="835" y="463" width="4" height="12" fill="#b2dfdb"/>
<rect x="840" y="463" width="5" height="12" fill="#b2dfdb"/>
<rect x="846" y="466" width="5" height="9" fill="#b2dfdb"/>
<rect x="852" y="469" width="4" height="6" fill="#b2dfdb"/>
<rect x="857" y="471" width="5" height="4" fill="#b2dfdb"/>
<rect x="863" y="472" width="5" height="3" fill="#b2dfdb"/>
<rect x="869" y="473" width="4" height="2" fill="#b2dfdb"/>
<rect x="874" y="474" width="5" height="10" fill="#ff5252"/>
<rect x="880" y="474" width="5" height="23" fill="#ff5252"/>
<rect x="886" y="474" width="4" height="36" fill="#ff5252"/>
<rect x="891" y="474" width="5" height="39" fill="#ff5252"/>
<rect x="897" y="474" width="5" height="40" fill="#ff5252"/>
<rect x="903" y="474" width="4" height="32" fill="#ffcdd2"/>
<rect x="908" y="474" width="5" height="23" fill="#ffcdd2"/>
<rect x="914" y="474" width="5" height="14" fill="#ffcdd2"/>
<rect x="920" y="474" width="4" height="5" fill="#ffcdd2"/>
<rect x="925" y="471" width="5" height="4" fill="#26a69a"/>
<rect x="931" y="466" width="5" height="9" fill="#26a69a"/>
<rect x="937" y="468" width="4" height="7" fill="#b2dfdb"/>
<rect x="942" y="474" width="5" height="1" fill="#ff5252"/>
<rect x="948" y="474" width="5" height="10" fill="#ff5252"/>
<rect x="954" y="474" width="4" height="16" fill="#ff5252"/>
<rect x="959" y="474" width="5" height="19" fill="#ff5252"/>
<rect x="965" y="474" width="5" height="17" fill="#ffcdd2"/>
<rect x="971" y="474" width="4" height="15" fill="#ffcdd2"/>
<rect x="976" y="474" width="5" height="10" fill="#ffcdd2"/>
</g>
<line x1="11" y1="474.5" x2="1038" y2="474.5" stroke="#787b86" stroke-opacity="0.75" stroke-width="1" stroke-dasharray="5 6" stroke-dashoffset="1" shape-rendering="crispEdges"/>
<polyline points="8.8,472.9 14.8,470.0 20.8,467.3 25.8,465.3 31.8,464.5 37.8,464.8 42.8,466.2 48.8,468.3 54.8,470.3 59.8,471.7 65.8,472.5 71.8,472.0 76.8,470.0 82.8,467.3 88.8,464.5 93.8,460.3 99.8,455.3 105.8,449.4 110.8,443.6 116.8,438.6 122.8,433.9 127.8,431.0 133.8,430.2 139.8,430.5 144.8,431.9 150.8,432.4 156.8,432.2 161.8,431.5 167.8,429.9 173.8,427.4 178.8,426.0 184.8,427.6 190.8,429.8 195.8,433.1 201.8,436.3 207.8,439.0 212.8,441.5 218.8,443.5 224.8,445.7 229.8,448.2 235.8,450.2 241.8,451.9 246.8,453.9 252.8,455.6 258.8,456.6 263.8,458.2 269.8,459.6 275.8,461.1 280.8,462.7 286.8,464.4 292.8,466.4 297.8,468.1 303.8,468.6 309.8,468.1 314.8,467.3 320.8,467.3 326.8,467.8 331.8,468.1 337.8,468.6 343.8,469.4 348.8,469.9 354.8,470.8 360.8,472.0 365.8,473.3 371.8,473.7 377.8,473.2 382.8,472.8 388.8,472.5 394.8,470.8 399.8,467.0 405.8,463.6 411.8,461.9 416.8,461.4 422.8,461.9 428.8,463.1 433.8,464.0 439.8,462.3 445.8,456.9 450.8,449.4 456.8,442.7 462.8,436.0 467.8,430.2 473.8,426.0 479.8,423.5 484.8,422.3 490.8,422.1 496.8,422.6 501.8,422.3 507.8,422.1 513.8,421.0 518.8,419.8 524.8,418.8 530.8,418.0 535.8,417.3 541.8,415.6 547.8,413.4 552.8,411.8 558.8,410.4 564.8,409.8 569.8,410.4 575.8,410.9 581.8,411.3 586.8,411.8 592.8,411.8 598.8,412.1 603.8,412.6 609.8,412.3 615.8,411.8 620.8,409.3 626.8,406.7 632.8,404.2 637.8,402.6 643.8,401.7 649.8,401.2 654.8,401.7 660.8,402.6 666.8,405.1 671.8,408.4 677.8,411.8 683.8,415.9 688.8,420.1 694.8,423.5 700.8,426.0 705.8,428.5 711.8,431.0 717.8,433.5 722.8,436.5 728.8,440.1 734.8,443.5 739.8,445.7 745.8,446.3 751.8,446.3 756.8,446.8 762.8,447.3 768.8,448.0 773.8,448.5 779.8,449.0 785.8,449.3 790.8,449.7 796.8,450.0 802.8,450.4 807.8,450.7 813.8,450.5 819.8,449.3 824.8,447.3 830.8,444.8 836.8,442.2 841.8,439.8 847.8,438.1 853.8,437.1 858.8,436.5 864.8,436.1 870.8,436.3 875.8,439.3 881.8,446.8 887.8,456.9 892.8,467.7 898.8,476.1 904.8,482.8 909.8,487.0 915.8,489.5 921.8,490.8 926.8,489.5 932.8,487.8 938.8,486.6 943.8,487.0 949.8,490.0 955.8,494.5 960.8,499.0 966.8,502.9 972.8,505.9 977.8,508.4" fill="none" stroke="#ff6d00" stroke-width="1.0" stroke-linejoin="round" stroke-linecap="round"/>
<polyline points="8.8,458.6 14.8,455.3 20.8,457.0 25.8,457.8 31.8,462.0 37.8,464.5 42.8,470.4 48.8,476.2 54.8,479.5 59.8,476.5 65.8,475.9 71.8,469.5 76.8,460.3 82.8,455.3 88.8,452.3 93.8,445.3 99.8,437.7 105.8,427.7 110.8,423.5 116.8,418.8 122.8,414.6 127.8,418.2 133.8,425.2 139.8,431.0 144.8,435.2 150.8,434.9 156.8,431.9 161.8,429.4 167.8,423.5 173.8,414.8 178.8,425.1 184.8,432.1 190.8,437.7 195.8,443.5 201.8,447.7 207.8,449.4 212.8,449.0 218.8,451.0 224.8,453.9 229.8,456.1 235.8,459.4 241.8,459.4 246.8,460.7 252.8,463.2 258.8,460.6 263.8,465.3 269.8,465.3 275.8,466.9 280.8,468.6 286.8,471.1 292.8,473.6 297.8,474.0 303.8,470.3 309.8,467.3 314.8,464.1 320.8,466.1 326.8,468.3 331.8,469.4 337.8,470.8 343.8,472.5 348.8,472.3 354.8,473.3 360.8,477.8 365.8,479.5 371.8,475.3 377.8,472.5 382.8,471.5 388.8,471.1 394.8,463.6 399.8,455.3 405.8,451.4 411.8,451.9 416.8,456.1 422.8,462.5 428.8,467.3 433.8,468.5 439.8,456.9 445.8,440.2 450.8,425.1 456.8,414.3 462.8,412.6 467.8,408.1 473.8,406.7 479.8,410.1 484.8,415.6 490.8,420.1 496.8,424.3 501.8,422.1 507.8,420.6 513.8,417.6 518.8,414.6 524.8,413.4 530.8,415.9 535.8,414.3 541.8,410.1 547.8,406.7 552.8,404.2 558.8,405.4 564.8,405.1 569.8,410.1 575.8,413.4 581.8,413.4 586.8,414.3 592.8,412.6 598.8,413.1 603.8,414.3 609.8,412.6 615.8,410.9 620.8,402.6 626.8,395.4 632.8,395.9 637.8,394.5 643.8,397.5 649.8,399.7 654.8,403.1 660.8,406.7 666.8,413.4 671.8,419.3 677.8,425.1 683.8,431.0 688.8,436.0 694.8,437.4 700.8,434.7 705.8,436.9 711.8,440.5 717.8,443.2 722.8,448.5 728.8,454.4 734.8,455.2 739.8,456.8 745.8,448.5 751.8,445.2 756.8,447.2 762.8,449.3 768.8,449.3 773.8,451.5 779.8,452.2 785.8,450.5 790.8,449.8 796.8,451.4 802.8,451.9 807.8,451.9 813.8,451.0 819.8,446.0 824.8,440.1 830.8,434.8 836.8,432.3 841.8,430.1 847.8,431.3 853.8,432.6 858.8,434.0 864.8,434.8 870.8,435.9 875.8,451.0 881.8,470.2 887.8,488.6 892.8,502.0 898.8,511.2 904.8,511.6 909.8,507.5 915.8,503.4 921.8,495.3 926.8,487.0 932.8,480.6 938.8,481.6 943.8,489.5 949.8,498.7 955.8,507.9 960.8,517.1 966.8,518.7 972.8,520.4 977.8,516.4" fill="none" stroke="#2962ff" stroke-width="1.0" stroke-linejoin="round" stroke-linecap="round"/>
</g>
<g clip-path="url(#plot)">
<g stroke-width="1" shape-rendering="crispEdges">
<line x1="11" y1="564.5" x2="1038" y2="564.5" stroke="#787b86" stroke-dasharray="5 6" stroke-dashoffset="1"/>
<line x1="11" y1="615.5" x2="1038" y2="615.5" stroke="#a9abb3" stroke-dasharray="5 6" stroke-dashoffset="1"/>
<line x1="11" y1="667.5" x2="1038" y2="667.5" stroke="#787b86" stroke-dasharray="5 6" stroke-dashoffset="1"/>
</g>
<polygon points="9.5,564.5 8.8,594.8 14.8,594.5 20.8,612.8 25.8,610.3 31.8,620.6 37.8,617.5 42.8,626.5 48.8,633.6 54.8,628.7 59.8,610.3 65.8,615.7 71.8,595.7 76.8,590.5 82.8,593.9 88.8,595.7 93.8,581.8 99.8,577.3 105.8,567.4 110.8,584.5 116.8,577.3 122.8,575.5 127.8,599.0 133.8,610.7 139.8,612.5 144.8,604.9 150.8,596.3 156.8,587.3 161.8,587.8 167.8,576.8 173.8,565.3 178.8,613.2 184.8,616.4 190.8,610.7 195.8,613.9 201.8,616.4 207.8,609.4 212.8,604.0 218.8,608.5 224.8,614.6 229.8,609.8 235.8,618.8 241.8,608.3 246.8,612.1 252.8,616.6 258.8,601.7 263.8,622.9 269.8,611.6 275.8,617.3 280.8,616.6 286.8,622.7 292.8,620.9 297.8,618.2 303.8,600.2 309.8,605.6 314.8,599.3 320.8,618.4 326.8,616.4 331.8,617.3 337.8,616.4 343.8,621.1 348.8,612.8 354.8,618.8 360.8,633.7 365.8,623.3 371.8,604.9 377.8,605.6 382.8,610.7 388.8,612.5 394.8,589.1 399.8,577.9 405.8,585.5 411.8,604.4 416.8,618.4 422.8,629.2 428.8,625.1 433.8,620.6 439.8,580.9 445.8,567.4 450.8,561.1 456.8,559.0 462.8,589.6 467.8,580.0 473.8,586.7 479.8,596.3 484.8,605.6 490.8,603.5 496.8,601.7 501.8,588.2 507.8,587.8 513.8,581.8 518.8,578.2 524.8,578.2 530.8,593.2 535.8,583.6 541.8,571.0 547.8,573.2 552.8,571.0 558.8,582.4 564.8,577.3 569.8,597.2 575.8,592.7 581.8,583.6 586.8,583.3 592.8,576.1 598.8,581.5 603.8,581.5 609.8,572.8 615.8,569.2 620.8,552.5 626.8,550.3 632.8,575.0 637.8,569.2 643.8,586.7 649.8,582.4 654.8,585.5 660.8,588.7 666.8,602.6 671.8,596.3 677.8,608.0 683.8,611.2 688.8,606.2 694.8,596.8 700.8,584.0 705.8,600.8 711.8,608.0 717.8,604.4 722.8,617.5 728.8,624.3 734.8,608.1 739.8,610.8 745.8,581.0 751.8,592.7 756.8,605.9 762.8,609.5 768.8,602.7 773.8,609.5 779.8,605.4 785.8,597.8 790.8,598.7 796.8,607.5 802.8,603.6 807.8,600.9 813.8,599.1 819.8,582.8 824.8,578.3 830.8,567.9 836.8,582.5 841.8,580.1 847.8,592.4 853.8,591.5 858.8,592.2 864.8,589.7 870.8,588.2 875.8,641.4 881.8,658.5 887.8,675.1 892.8,653.6 898.8,656.7 904.8,631.5 909.8,619.8 915.8,618.0 921.8,605.4 926.8,602.7 932.8,601.4 938.8,620.7 943.8,637.8 949.8,647.3 955.8,651.3 960.8,652.2 966.8,638.2 972.8,641.0 977.8,624.5 978.5,564.5" fill="url(#gob)" clip-path="url(#cob)"/>
<polygon points="9.5,667.5 8.8,594.8 14.8,594.5 20.8,612.8 25.8,610.3 31.8,620.6 37.8,617.5 42.8,626.5 48.8,633.6 54.8,628.7 59.8,610.3 65.8,615.7 71.8,595.7 76.8,590.5 82.8,593.9 88.8,595.7 93.8,581.8 99.8,577.3 105.8,567.4 110.8,584.5 116.8,577.3 122.8,575.5 127.8,599.0 133.8,610.7 139.8,612.5 144.8,604.9 150.8,596.3 156.8,587.3 161.8,587.8 167.8,576.8 173.8,565.3 178.8,613.2 184.8,616.4 190.8,610.7 195.8,613.9 201.8,616.4 207.8,609.4 212.8,604.0 218.8,608.5 224.8,614.6 229.8,609.8 235.8,618.8 241.8,608.3 246.8,612.1 252.8,616.6 258.8,601.7 263.8,622.9 269.8,611.6 275.8,617.3 280.8,616.6 286.8,622.7 292.8,620.9 297.8,618.2 303.8,600.2 309.8,605.6 314.8,599.3 320.8,618.4 326.8,616.4 331.8,617.3 337.8,616.4 343.8,621.1 348.8,612.8 354.8,618.8 360.8,633.7 365.8,623.3 371.8,604.9 377.8,605.6 382.8,610.7 388.8,612.5 394.8,589.1 399.8,577.9 405.8,585.5 411.8,604.4 416.8,618.4 422.8,629.2 428.8,625.1 433.8,620.6 439.8,580.9 445.8,567.4 450.8,561.1 456.8,559.0 462.8,589.6 467.8,580.0 473.8,586.7 479.8,596.3 484.8,605.6 490.8,603.5 496.8,601.7 501.8,588.2 507.8,587.8 513.8,581.8 518.8,578.2 524.8,578.2 530.8,593.2 535.8,583.6 541.8,571.0 547.8,573.2 552.8,571.0 558.8,582.4 564.8,577.3 569.8,597.2 575.8,592.7 581.8,583.6 586.8,583.3 592.8,576.1 598.8,581.5 603.8,581.5 609.8,572.8 615.8,569.2 620.8,552.5 626.8,550.3 632.8,575.0 637.8,569.2 643.8,586.7 649.8,582.4 654.8,585.5 660.8,588.7 666.8,602.6 671.8,596.3 677.8,608.0 683.8,611.2 688.8,606.2 694.8,596.8 700.8,584.0 705.8,600.8 711.8,608.0 717.8,604.4 722.8,617.5 728.8,624.3 734.8,608.1 739.8,610.8 745.8,581.0 751.8,592.7 756.8,605.9 762.8,609.5 768.8,602.7 773.8,609.5 779.8,605.4 785.8,597.8 790.8,598.7 796.8,607.5 802.8,603.6 807.8,600.9 813.8,599.1 819.8,582.8 824.8,578.3 830.8,567.9 836.8,582.5 841.8,580.1 847.8,592.4 853.8,591.5 858.8,592.2 864.8,589.7 870.8,588.2 875.8,641.4 881.8,658.5 887.8,675.1 892.8,653.6 898.8,656.7 904.8,631.5 909.8,619.8 915.8,618.0 921.8,605.4 926.8,602.7 932.8,601.4 938.8,620.7 943.8,637.8 949.8,647.3 955.8,651.3 960.8,652.2 966.8,638.2 972.8,641.0 977.8,624.5 978.5,667.5" fill="url(#gos)" clip-path="url(#cos)"/>
<polyline points="8.8,612.5 14.8,610.7 20.8,609.2 25.8,608.5 31.8,609.2 37.8,609.8 42.8,611.6 48.8,612.8 54.8,612.8 59.8,612.5 65.8,612.5 71.8,611.6 76.8,610.7 82.8,610.3 88.8,610.1 93.8,608.5 99.8,605.8 105.8,603.1 110.8,600.2 116.8,597.2 122.8,593.9 127.8,592.3 133.8,591.4 139.8,591.2 144.8,590.9 150.8,590.5 156.8,590.5 161.8,589.6 167.8,588.7 173.8,587.6 178.8,590.5 184.8,593.4 190.8,595.9 195.8,598.4 201.8,601.1 207.8,601.7 212.8,601.1 218.8,601.1 224.8,602.0 229.8,603.1 235.8,604.9 241.8,606.5 246.8,609.2 252.8,612.5 258.8,611.6 263.8,612.1 269.8,612.1 275.8,612.5 280.8,612.8 286.8,613.7 292.8,614.6 297.8,615.2 303.8,614.3 309.8,613.7 314.8,612.5 320.8,613.4 326.8,613.7 331.8,613.7 337.8,614.3 343.8,614.6 348.8,614.3 354.8,614.8 360.8,616.1 365.8,615.7 371.8,614.8 377.8,613.9 382.8,614.8 388.8,614.8 394.8,613.7 399.8,611.2 405.8,609.4 411.8,608.5 416.8,608.5 422.8,609.2 428.8,610.1 433.8,609.8 439.8,606.2 445.8,602.6 450.8,598.6 456.8,595.7 462.8,594.1 467.8,592.1 473.8,592.1 479.8,593.6 484.8,594.5 490.8,594.1 496.8,593.0 501.8,590.0 507.8,587.8 513.8,585.5 518.8,584.9 524.8,586.0 530.8,588.2 535.8,589.6 541.8,588.3 547.8,587.3 552.8,586.4 558.8,585.1 564.8,583.6 569.8,583.1 575.8,582.7 581.8,582.4 586.8,582.2 592.8,581.8 598.8,582.2 603.8,581.5 609.8,580.0 615.8,578.8 620.8,577.7 626.8,576.8 632.8,577.0 637.8,576.4 643.8,576.4 649.8,575.5 654.8,575.2 660.8,575.5 666.8,577.0 671.8,578.8 677.8,580.9 683.8,583.1 688.8,585.5 694.8,587.6 700.8,590.0 705.8,592.7 711.8,595.0 717.8,597.2 722.8,600.0 728.8,602.7 734.8,604.5 739.8,605.4 745.8,603.9 751.8,603.6 756.8,603.4 762.8,603.2 768.8,603.0 773.8,604.5 779.8,605.4 785.8,605.4 790.8,604.8 796.8,604.5 802.8,603.0 807.8,602.1 813.8,601.2 819.8,600.0 824.8,599.1 830.8,597.6 836.8,596.0 841.8,594.0 847.8,593.1 853.8,592.2 858.8,591.5 864.8,590.4 870.8,589.8 875.8,592.5 881.8,596.8 887.8,602.0 892.8,607.2 898.8,611.7 904.8,615.1 909.8,618.9 915.8,621.0 921.8,622.8 926.8,623.4 932.8,624.3 938.8,626.6 943.8,630.2 949.8,633.3 955.8,634.2 960.8,633.3 966.8,631.1 972.8,630.0 977.8,627.7" fill="none" stroke="#f7d548" stroke-width="1.0" stroke-linejoin="round" stroke-linecap="round"/>
<polyline points="8.8,594.8 14.8,594.5 20.8,612.8 25.8,610.3 31.8,620.6 37.8,617.5 42.8,626.5 48.8,633.6 54.8,628.7 59.8,610.3 65.8,615.7 71.8,595.7 76.8,590.5 82.8,593.9 88.8,595.7 93.8,581.8 99.8,577.3 105.8,567.4 110.8,584.5 116.8,577.3 122.8,575.5 127.8,599.0 133.8,610.7 139.8,612.5 144.8,604.9 150.8,596.3 156.8,587.3 161.8,587.8 167.8,576.8 173.8,565.3 178.8,613.2 184.8,616.4 190.8,610.7 195.8,613.9 201.8,616.4 207.8,609.4 212.8,604.0 218.8,608.5 224.8,614.6 229.8,609.8 235.8,618.8 241.8,608.3 246.8,612.1 252.8,616.6 258.8,601.7 263.8,622.9 269.8,611.6 275.8,617.3 280.8,616.6 286.8,622.7 292.8,620.9 297.8,618.2 303.8,600.2 309.8,605.6 314.8,599.3 320.8,618.4 326.8,616.4 331.8,617.3 337.8,616.4 343.8,621.1 348.8,612.8 354.8,618.8 360.8,633.7 365.8,623.3 371.8,604.9 377.8,605.6 382.8,610.7 388.8,612.5 394.8,589.1 399.8,577.9 405.8,585.5 411.8,604.4 416.8,618.4 422.8,629.2 428.8,625.1 433.8,620.6 439.8,580.9 445.8,567.4 450.8,561.1 456.8,559.0 462.8,589.6 467.8,580.0 473.8,586.7 479.8,596.3 484.8,605.6 490.8,603.5 496.8,601.7 501.8,588.2 507.8,587.8 513.8,581.8 518.8,578.2 524.8,578.2 530.8,593.2 535.8,583.6 541.8,571.0 547.8,573.2 552.8,571.0 558.8,582.4 564.8,577.3 569.8,597.2 575.8,592.7 581.8,583.6 586.8,583.3 592.8,576.1 598.8,581.5 603.8,581.5 609.8,572.8 615.8,569.2 620.8,552.5 626.8,550.3 632.8,575.0 637.8,569.2 643.8,586.7 649.8,582.4 654.8,585.5 660.8,588.7 666.8,602.6 671.8,596.3 677.8,608.0 683.8,611.2 688.8,606.2 694.8,596.8 700.8,584.0 705.8,600.8 711.8,608.0 717.8,604.4 722.8,617.5 728.8,624.3 734.8,608.1 739.8,610.8 745.8,581.0 751.8,592.7 756.8,605.9 762.8,609.5 768.8,602.7 773.8,609.5 779.8,605.4 785.8,597.8 790.8,598.7 796.8,607.5 802.8,603.6 807.8,600.9 813.8,599.1 819.8,582.8 824.8,578.3 830.8,567.9 836.8,582.5 841.8,580.1 847.8,592.4 853.8,591.5 858.8,592.2 864.8,589.7 870.8,588.2 875.8,641.4 881.8,658.5 887.8,675.1 892.8,653.6 898.8,656.7 904.8,631.5 909.8,619.8 915.8,618.0 921.8,605.4 926.8,602.7 932.8,601.4 938.8,620.7 943.8,637.8 949.8,647.3 955.8,651.3 960.8,652.2 966.8,638.2 972.8,641.0 977.8,624.5" fill="none" stroke="#7e57c2" stroke-width="1.0" stroke-linejoin="round" stroke-linecap="round"/>
</g>
<text x="18.4" y="46.4" font-size="12" fill="#131722" stroke="#131722" stroke-width="0.3" textLength="40.8" lengthAdjust="spacingAndGlyphs">USDJPY</text>
<text x="71.4" y="46.4" font-size="12" fill="#131722" stroke="#131722" stroke-width="0.3" textLength="14" lengthAdjust="spacingAndGlyphs">1D</text>
<text x="96.2" y="46.4" font-size="12" fill="#131722" stroke="#131722" stroke-width="0.3" textLength="28.6" lengthAdjust="spacingAndGlyphs">FXCM</text>
<rect x="64" y="40.4" width="1.8" height="1.8" fill="#131722"/><rect x="90" y="40.4" width="1.8" height="1.8" fill="#131722"/>
<text x="134.5" y="46.4" font-size="12" fill="#131722" stroke="#131722" stroke-width="0.3" textLength="8.5" lengthAdjust="spacingAndGlyphs">O</text>
<text x="143.8" y="46.4" font-size="12" fill="#26a69a" stroke="#26a69a" stroke-width="0.3" textLength="38.6" lengthAdjust="spacingAndGlyphs">153.252</text>
<text x="191.7" y="46.4" font-size="12" fill="#131722" stroke="#131722" stroke-width="0.3" textLength="7.5" lengthAdjust="spacingAndGlyphs">H</text>
<text x="200" y="46.4" font-size="12" fill="#26a69a" stroke="#26a69a" stroke-width="0.3" textLength="38.4" lengthAdjust="spacingAndGlyphs">154.389</text>
<text x="247.6" y="46.4" font-size="12" fill="#131722" stroke="#131722" stroke-width="0.3" textLength="5.5" lengthAdjust="spacingAndGlyphs">L</text>
<text x="253.9" y="46.4" font-size="12" fill="#26a69a" stroke="#26a69a" stroke-width="0.3" textLength="39.1" lengthAdjust="spacingAndGlyphs">153.067</text>
<text x="301" y="46.4" font-size="12" fill="#131722" stroke="#131722" stroke-width="0.3" textLength="6.8" lengthAdjust="spacingAndGlyphs">C</text>
<text x="308.6" y="46.4" font-size="12" fill="#26a69a" stroke="#26a69a" stroke-width="0.3" textLength="39.4" lengthAdjust="spacingAndGlyphs">154.356</text>
<text x="356" y="46.4" font-size="12" fill="#26a69a" stroke="#26a69a" stroke-width="0.3" textLength="80.8" lengthAdjust="spacingAndGlyphs">+1.104 (+0.72%)</text>
<text x="445.6" y="46.4" font-size="12" fill="#131722" stroke="#131722" stroke-width="0.3" textLength="15.4" lengthAdjust="spacingAndGlyphs">Vol</text>
<text x="462" y="46.4" font-size="12" fill="#26a69a" stroke="#26a69a" stroke-width="0.3" textLength="41.6" lengthAdjust="spacingAndGlyphs">122.96 K</text>
<text x="17.9" y="398.4" font-size="12" fill="#131722" stroke="#131722" stroke-width="0.3" textLength="112" lengthAdjust="spacingAndGlyphs">MACD (12, 26, close)</text>
<text x="138.5" y="398.4" font-size="12" fill="#ffcdd2" stroke="#ffcdd2" stroke-width="0.3" textLength="33.5" lengthAdjust="spacingAndGlyphs">−0.154</text>
<text x="180" y="398.4" font-size="12" fill="#2962ff" stroke="#2962ff" stroke-width="0.3" textLength="33.5" lengthAdjust="spacingAndGlyphs">−0.756</text>
<text x="222" y="398.4" font-size="12" fill="#ff6d00" stroke="#ff6d00" stroke-width="0.3" textLength="33.5" lengthAdjust="spacingAndGlyphs">−0.602</text>
<text x="18.4" y="554" font-size="12" fill="#131722" stroke="#131722" stroke-width="0.3" textLength="76.3" lengthAdjust="spacingAndGlyphs">RSI (14, close)</text>
<text x="103" y="554" font-size="12" fill="#7e57c2" stroke="#7e57c2" stroke-width="0.3" textLength="28" lengthAdjust="spacingAndGlyphs">46.38</text>
<text x="139" y="554" font-size="12" fill="#f7d548" stroke="#f7d548" stroke-width="0.3" textLength="28" lengthAdjust="spacingAndGlyphs">45.18</text>
<text x="1047.8" y="57.0" font-size="12" fill="#131722" stroke="#131722" stroke-width="0.3" textLength="39" lengthAdjust="spacingAndGlyphs">160.000</text>
<text x="1047.8" y="91.0" font-size="12" fill="#131722" stroke="#131722" stroke-width="0.3" textLength="39" lengthAdjust="spacingAndGlyphs">158.000</text>
<text x="1047.8" y="125.0" font-size="12" fill="#131722" stroke="#131722" stroke-width="0.3" textLength="39" lengthAdjust="spacingAndGlyphs">156.000</text>
<text x="1047.8" y="194.0" font-size="12" fill="#131722" stroke="#131722" stroke-width="0.3" textLength="39" lengthAdjust="spacingAndGlyphs">152.000</text>
<text x="1047.8" y="228.0" font-size="12" fill="#131722" stroke="#131722" stroke-width="0.3" textLength="39" lengthAdjust="spacingAndGlyphs">150.000</text>
<text x="1047.8" y="262.0" font-size="12" fill="#131722" stroke="#131722" stroke-width="0.3" textLength="39" lengthAdjust="spacingAndGlyphs">148.000</text>
<text x="1047.8" y="296.0" font-size="12" fill="#131722" stroke="#131722" stroke-width="0.3" textLength="39" lengthAdjust="spacingAndGlyphs">146.000</text>
<text x="1047.8" y="330.0" font-size="12" fill="#131722" stroke="#131722" stroke-width="0.3" textLength="39" lengthAdjust="spacingAndGlyphs">144.000</text>
<text x="1047.8" y="365.0" font-size="12" fill="#131722" stroke="#131722" stroke-width="0.3" textLength="39" lengthAdjust="spacingAndGlyphs">142.000</text>
<text x="1047.8" y="420.0" font-size="12" fill="#131722" stroke="#131722" stroke-width="0.3" textLength="28.5" lengthAdjust="spacingAndGlyphs">1.000</text>
<text x="1047.8" y="478.0" font-size="12" fill="#131722" stroke="#131722" stroke-width="0.3" textLength="28.5" lengthAdjust="spacingAndGlyphs">0.000</text>
<text x="1047.8" y="542.0" font-size="12" fill="#131722" stroke="#131722" stroke-width="0.3" textLength="28.5" lengthAdjust="spacingAndGlyphs" clip-path="url(#rsiax)">80.00</text>
<text x="1047.8" y="594.0" font-size="12" fill="#131722" stroke="#131722" stroke-width="0.3" textLength="28.5" lengthAdjust="spacingAndGlyphs">60.00</text>
<path d="M1039 124 H1090 Q1092 124 1092 126 V139 Q1092 141 1090 141 H1039 Z" fill="#2962ff"/>
<text x="1047.8" y="136.9" font-size="12" fill="#fff" stroke="#fff" stroke-width="0.3" textLength="39" lengthAdjust="spacingAndGlyphs">154.843</text>
<path d="M1039 199 H1090 Q1092 199 1092 201 V214 Q1092 216 1090 216 H1039 Z" fill="#2962ff"/>
<text x="1047.8" y="211.9" font-size="12" fill="#fff" stroke="#fff" stroke-width="0.3" textLength="39" lengthAdjust="spacingAndGlyphs">150.994</text>
<path d="M1039 281.5 H1090 Q1092 281.5 1092 283.5 V296.5 Q1092 298.5 1090 298.5 H1039 Z" fill="#2962ff"/>
<text x="1047.8" y="294.4" font-size="12" fill="#fff" stroke="#fff" stroke-width="0.3" textLength="39" lengthAdjust="spacingAndGlyphs">146.150</text>
<path d="M991 141 H1038.5 V158 H991 Q989 158 989 156 V143 Q989 141 991 141 Z" fill="#26a69a"/>
<text x="993.3" y="153.8" font-size="12" fill="#fff" stroke="#fff" stroke-width="0.3" textLength="40.2" lengthAdjust="spacingAndGlyphs">USDJPY</text>
<path d="M1039 141 H1094 Q1096 141 1096 143 V169.5 Q1096 171.5 1094 171.5 H1039 Z" fill="#26a69a"/>
<text x="1047.8" y="154" font-size="12" fill="#fff" stroke="#fff" stroke-width="0.3" textLength="39" lengthAdjust="spacingAndGlyphs">154.356</text>
<text x="1047.8" y="167.9" font-size="12" fill="#c9e9e6" stroke="#c9e9e6" stroke-width="0.3" textLength="43" lengthAdjust="spacingAndGlyphs">07:20:32</text>
<path d="M1039 474 H1084 Q1086 474 1086 476 V489 Q1086 491 1084 491 H1039 Z" fill="#ffcdd2"/>
<text x="1047.5" y="486.9" font-size="12" fill="#131722" stroke="#131722" stroke-width="0.3" textLength="33.5" lengthAdjust="spacingAndGlyphs">−0.154</text>
<path d="M1039 500 H1084 Q1086 500 1086 502 V515 Q1086 517 1084 517 H1039 Z" fill="#ff6d00"/>
<text x="1047.5" y="512.9" font-size="12" fill="#fff" stroke="#fff" stroke-width="0.3" textLength="33.5" lengthAdjust="spacingAndGlyphs">−0.602</text>
<path d="M1039 517 H1084 Q1086 517 1086 519 V532 Q1086 534 1084 534 H1039 Z" fill="#2962ff"/>
<text x="1047.5" y="529.9" font-size="12" fill="#fff" stroke="#fff" stroke-width="0.3" textLength="33.5" lengthAdjust="spacingAndGlyphs">−0.756</text>
<path d="M1039 617 H1078 Q1080 617 1080 619 V632 Q1080 634 1078 634 H1039 Z" fill="#7e57c2"/>
<text x="1047.8" y="629.9" font-size="12" fill="#fff" stroke="#fff" stroke-width="0.3" textLength="27.8" lengthAdjust="spacingAndGlyphs">46.38</text>
<path d="M1039 634 H1078 Q1080 634 1080 636 V649 Q1080 651 1078 651 H1039 Z" fill="#fdd835"/>
<text x="1047.8" y="646.9" font-size="12" fill="#131722" stroke="#131722" stroke-width="0.3" textLength="27.8" lengthAdjust="spacingAndGlyphs">45.18</text>
<text x="49.5" y="707.2" font-size="12" fill="#131722" stroke="#131722" stroke-width="0.3" text-anchor="middle">Jul</text>
<text x="179.5" y="707.2" font-size="12" fill="#131722" stroke="#131722" stroke-width="0.3" text-anchor="middle">Aug</text>
<text x="298.5" y="707.2" font-size="12" fill="#131722" stroke="#131722" stroke-width="0.3" text-anchor="middle">Sep</text>
<text x="423.5" y="707.2" font-size="12" fill="#131722" stroke="#131722" stroke-width="0.3" text-anchor="middle">Oct</text>
<text x="553.5" y="707.2" font-size="12" fill="#131722" stroke="#131722" stroke-width="0.3" text-anchor="middle">Nov</text>
<text x="667" y="707.2" font-size="12" fill="#131722" stroke="#131722" stroke-width="0.3" text-anchor="middle">Dec</text>
<text x="910.4" y="707.2" font-size="12" fill="#131722" stroke="#131722" stroke-width="0.3" text-anchor="middle">Feb</text>
<text x="1023.5" y="707.2" font-size="12" fill="#131722" stroke="#131722" stroke-width="0.3" text-anchor="middle">Mar</text>
<text x="791.5" y="707.2" font-size="12" fill="#131722" text-anchor="middle" font-weight="bold">2026</text>
<g fill="#141414"><path d="M12 739.1 H23.8 V753.9 H17.9 V745 H12 Z"/><circle cx="28.9" cy="741.9" r="2.9"/><path d="M34.4 739.1 H41.9 L36.5 753.9 H28.9 Z"/></g>
<text x="48.6" y="0" font-size="20.5" fill="#141414" font-weight="bold" textLength="121" lengthAdjust="spacingAndGlyphs" transform="translate(0 753.9) scale(1 1.05)">TradingView</text>
</svg></body></html>
